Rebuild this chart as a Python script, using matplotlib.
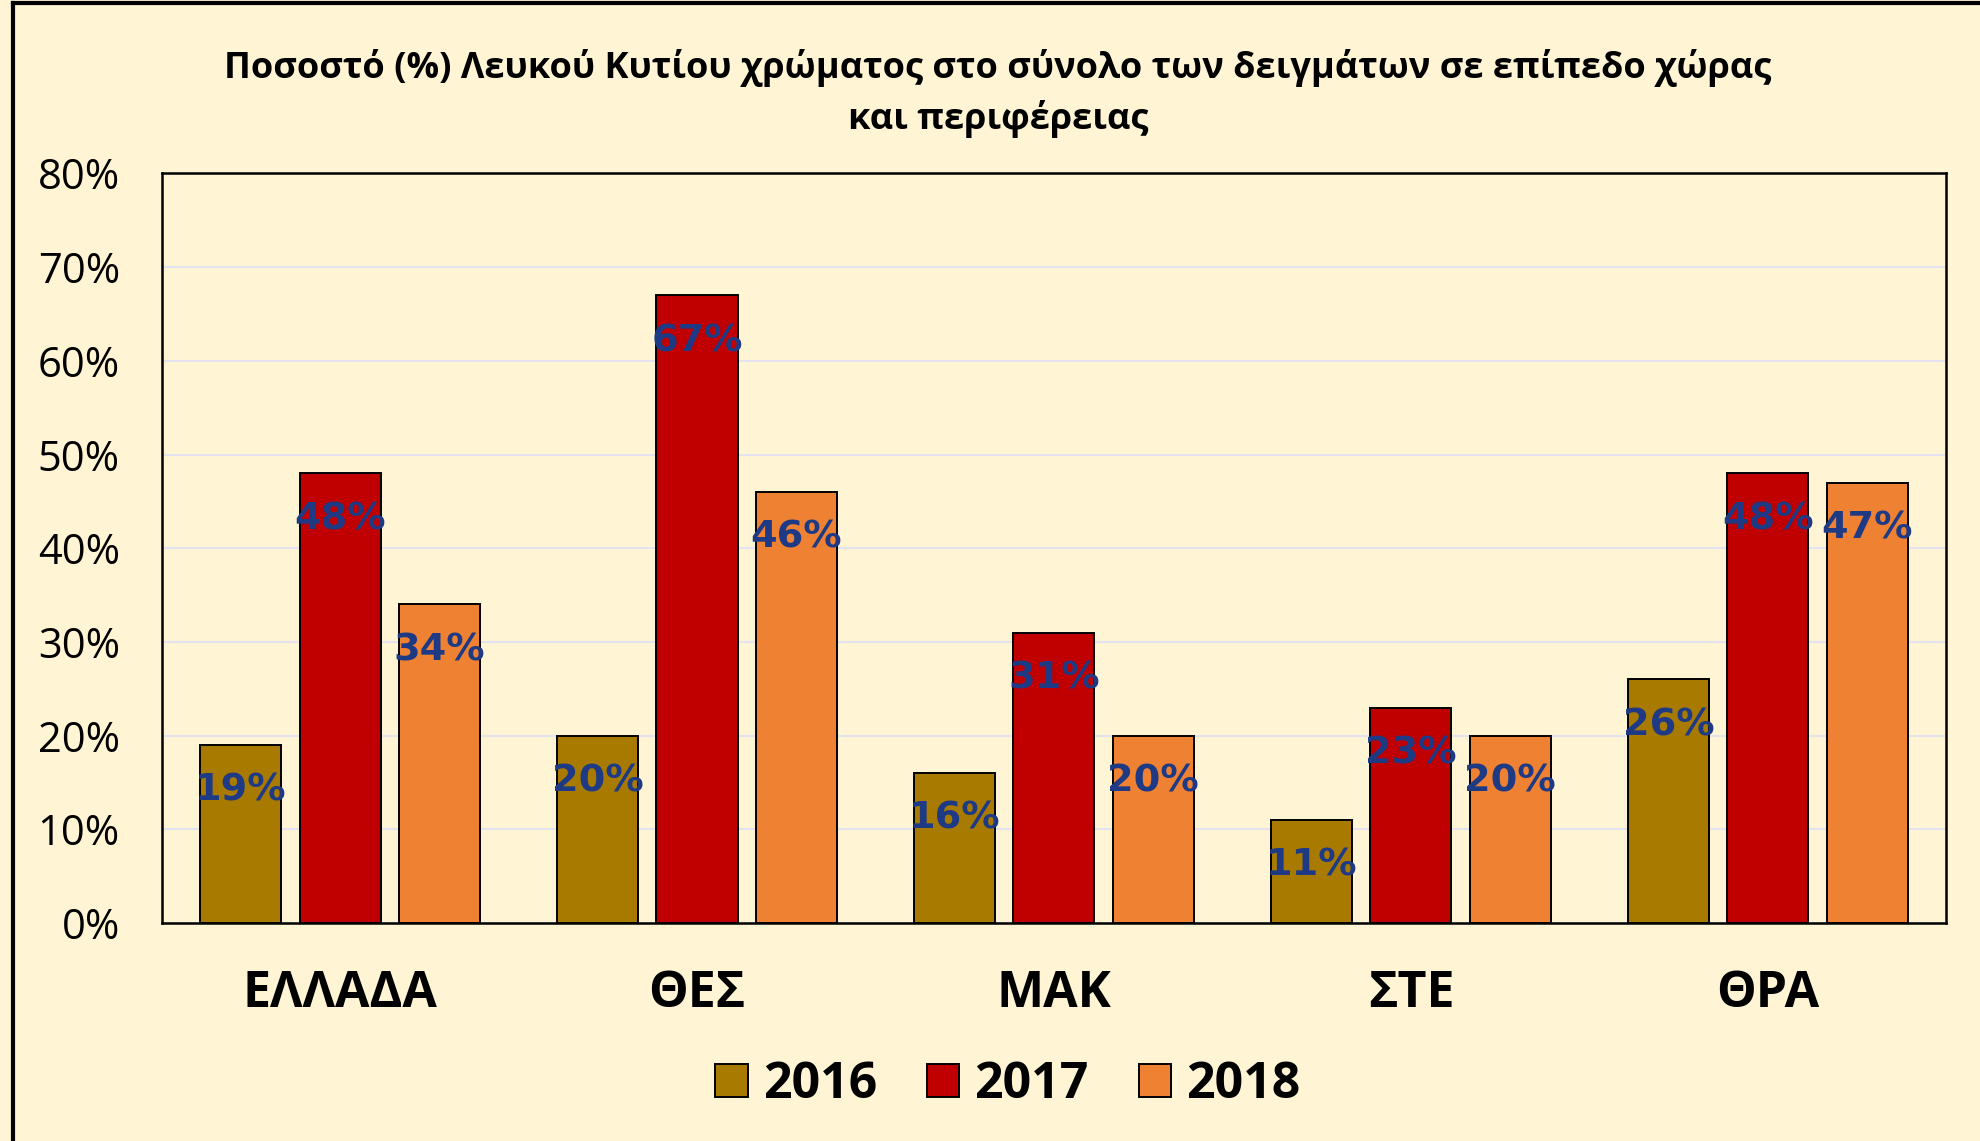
import numpy as np
import matplotlib
matplotlib.use('Agg')
import matplotlib.pyplot as plt
from matplotlib.lines import Line2D

# Dane
categories = ['ΕΛΛΑΔΑ', 'ΘΕΣ', 'ΜΑΚ', 'ΣΤΕ', 'ΘΡΑ']
years = ['2016', '2017', '2018']
v2016 = [19, 20, 16, 11, 26]
v2017 = [48, 67, 31, 23, 48]
v2018 = [34, 46, 20, 20, 47]
yticks = [0, 10, 20, 30, 40, 50, 60, 70, 80]

title1 = 'Ποσοστό (%) Λευκού Κυτίου χρώματος στο σύνολο των δειγμάτων σε επίπεδο χώρας'
title2 = 'και περιφέρειας'

colors = ['#A87B00', '#C00000', '#EE8232']
bg = '#FFF4D4'
label_color = '#1F3A85'

plt.rcParams['font.family'] = ['Open Sans', 'DejaVu Sans']

fig = plt.figure(figsize=(19.8, 11.41), dpi=100, facecolor=bg)
ax = fig.add_axes([0.0816, 0.191, 0.9014, 0.657])
ax.set_facecolor(bg)

x = np.arange(len(categories))
width = 0.227
offset = 0.278

for i, (vals, year) in enumerate(zip([v2016, v2017, v2018], years)):
    bars = ax.bar(x + (i - 1) * offset, vals, width, color=colors[i],
                  edgecolor='black', linewidth=1.4, label=year, zorder=3)
    for b, v in zip(bars, vals):
        ax.annotate(f'{v}%', (b.get_x() + b.get_width() / 2, v),
                    xytext=(0, -33), textcoords='offset points',
                    ha='center', va='center', fontsize=27.5, fontweight='bold',
                    color=label_color, family='DejaVu Sans', zorder=4)

ax.set_xlim(-0.5, len(categories) - 0.5)
ax.set_ylim(0, 80)
ax.set_yticks(yticks)
ax.set_yticklabels([f'{t}%' for t in yticks], fontsize=30)
ax.set_xticks(x)
ax.set_xticklabels(categories, fontsize=36, fontweight='bold')
ax.tick_params(axis='y', length=0, pad=30)
ax.tick_params(axis='x', length=0, pad=33)
ax.grid(axis='y', color='#E4E2EE', linewidth=1.5, zorder=0)
for s in ax.spines.values():
    s.set_linewidth(1.8)
    s.set_color('black')

fig.text(0.504, 0.940, title1, ha='center', va='center', fontsize=26, fontweight='bold')
fig.text(0.504, 0.896, title2, ha='center', va='center', fontsize=26, fontweight='bold')

leg = fig.legend(loc='center', bbox_to_anchor=(0.509, 0.049), ncol=3, frameon=False,
                 fontsize=36, handlelength=0.65, handleheight=0.65,
                 handletextpad=0.3, columnspacing=1.0)
for t in leg.get_texts():
    t.set_fontweight('bold')

# Ramka wykresu (lewa i górna krawędź)
fig.add_artist(Line2D([0.0066, 0.0066], [0, 0.997], transform=fig.transFigure,
                      color='black', linewidth=3))
fig.add_artist(Line2D([0.0066, 1], [0.997, 0.997], transform=fig.transFigure,
                      color='black', linewidth=3))

plt.savefig('out.png', dpi=100, facecolor=bg)
